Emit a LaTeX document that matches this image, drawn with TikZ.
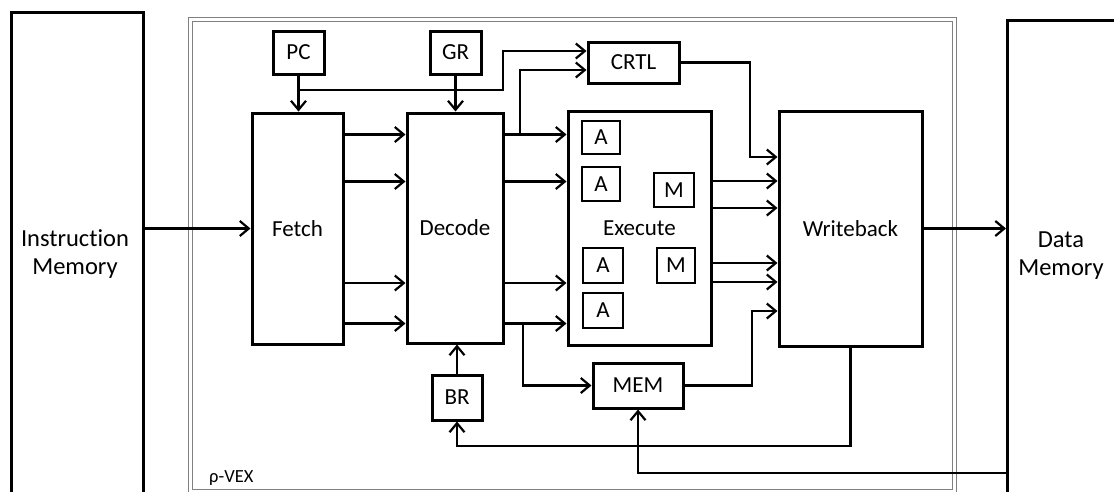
\documentclass[tikz,border=0pt]{standalone}
\usepackage{fontspec}
\setmainfont{Carlito}[Ligatures=NoCommon]
\usetikzlibrary{arrows.meta}
\tikzset{
  blk/.style={draw, line width=3pt, inner sep=0pt, font=\fontsize{23}{27}\selectfont},
  unit/.style={blk, line width=2.8pt},
  arr/.style={line width=2.2pt, -{Straight Barb[length=9pt,width=15pt]}},
  lbl/.style={align=center, inner sep=0pt, font=\fontsize{24.5}{28}\selectfont},
}
\begin{document}
\begin{tikzpicture}[x=1pt,y=-1pt]
\useasboundingbox (0,0) rectangle (1114,491);
\clip (0,0) rectangle (1114,491);
\draw[black!50, line width=1.3pt, double=white, double distance=2.6pt] (190.5,19.5) rectangle (954.5,491.5);
\node[anchor=base west, inner sep=0pt, font=\fontsize{18.5}{21}\selectfont] (rvex) at (209,482) {ρ-VEX};
\node[blk, line width=3.2pt, minimum width=132pt, minimum height=560pt, anchor=north west] (imem) at (10,11) {};
\node[lbl] (imemtxt) at (75,254) {Instruction\\Memory};
\node[blk, line width=3.2pt, minimum width=200pt, minimum height=560pt, anchor=north west] (dmem) at (1006,19) {};
\node[lbl] (dmemtxt) at (1061,256) {Data\\Memory};
\node[blk, minimum width=91pt, minimum height=231pt] (fetch) at (297.5,228.5) {Fetch};
\node[blk, minimum width=96pt, minimum height=230pt] (decode) at (455,228) {Decode};
\node[blk, minimum width=143pt, minimum height=234pt] (execute) at (639.5,228) {Execute};
\node[blk, minimum width=143pt, minimum height=235pt] (wb) at (850.5,228.5) {Writeback};
\node[blk, minimum width=51pt, minimum height=43pt] (pc) at (298.5,52.5) {PC};
\node[blk, minimum width=51pt, minimum height=43pt] (gr) at (455.5,52.5) {GR};
\node[blk, minimum width=91pt, minimum height=41pt] (crtl) at (633.5,62.5) {CRTL};
\node[blk, minimum width=50pt, minimum height=45pt] (br) at (457,397.5) {BR};
\node[blk, minimum width=90pt, minimum height=45pt] (mem) at (638,385.5) {MEM};
\node[unit, minimum width=38pt, minimum height=33pt] (alu1) at (601,137.5) {A};
\node[unit, minimum width=38pt, minimum height=34pt] (alu2) at (601,184) {A};
\node[unit, minimum width=40pt, minimum height=35pt] (alu3) at (603,265.5) {A};
\node[unit, minimum width=40pt, minimum height=35pt] (alu4) at (603,310.5) {A};
\node[unit, minimum width=40pt, minimum height=34pt] (mul1) at (674,190) {M};
\node[unit, minimum width=38pt, minimum height=35pt] (mul2) at (676,265.5) {M};
\draw[arr] (fetch.west -| imem.east) -- (fetch.west);
\draw[arr] (pc.south) -- (pc.south |- fetch.north);
\draw[arr] (gr.south) -- (gr.south |- decode.north);
\coordinate (pcsplit) at (298.5,90);
\draw[arr] (pcsplit) -| (503,51) -- (crtl.west |- 0,51);
\draw[arr] (520,134.5) |- (crtl.west |- 0,70);
\foreach \yy in {134.5,181.5,283,323.5} {
  \draw[arr] (fetch.east |- 0,\yy) -- (decode.west |- 0,\yy);
  \draw[arr] (decode.east |- 0,\yy) -- (execute.west |- 0,\yy);
}
\draw[arr] (523,323.5) |- (mem.west);
\draw[arr] (br.north) -- (br.north |- decode.south);
\draw[arr] (crtl.east) -| (750,157) -- (wb.west |- 0,157);
\foreach \yy in {181,208,263,282}
  \draw[arr] (execute.east |- 0,\yy) -- (wb.west |- 0,\yy);
\draw[arr] (mem.east) -| (752,311) -- (wb.west |- 0,311);
\draw[arr] (wb.east) -- (wb.east -| dmem.west);
\draw[arr] (wb.south) |- (457,446) -- (br.south);
\draw[arr] (dmem.west |- 0,473) -| (mem.south);
\end{tikzpicture}
\end{document}
